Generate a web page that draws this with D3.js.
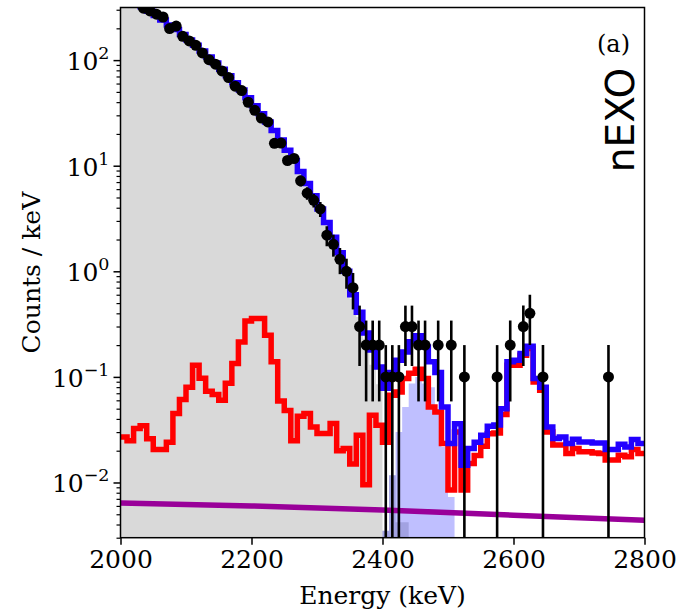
<!DOCTYPE html>
<html>
<head>
<meta charset="utf-8">
<script src="https://cdn.jsdelivr.net/npm/d3@7/dist/d3.min.js"></script>
<style>
  body { margin: 0; background: #fff; }
  svg text { font-family: "DejaVu Serif", serif; fill: #000; }
</style>
</head>
<body>
<svg id="chart" width="679" height="613"></svg>
<script>
// 10 keV bins, left edges
const binStart = 2000;
const binWidth = 10;
const xTicks = [2000, 2200, 2400, 2600, 2800];
const yDecades = [-2, -1, 0, 1, 2];

// total fit (blue), 2000 .. 2790
const totalFit = [
  440, 395, 355, 320, 290, 265, 240, 215, 195, 175,
  155, 138, 122, 107, 94, 82, 71, 61, 52, 44,
  37, 31, 26, 21.5, 17.5, 14, 11.2, 8.8, 6.8, 5.2,
  3.9, 2.9, 2.1, 1.5, 1.0, 0.6, 0.41, 0.26, 0.18, 0.124,
  0.078, 0.11, 0.144, 0.172, 0.215, 0.245, 0.192, 0.139, 0.11, 0.052,
  0.0234, 0.036, 0.0146, 0.021, 0.024, 0.028, 0.034, 0.035, 0.05, 0.139,
  0.144, 0.167, 0.195, 0.0966, 0.080, 0.0336, 0.0261, 0.027, 0.0234, 0.0257,
  0.0242, 0.0242, 0.0236, 0.0236, 0.0205, 0.0205, 0.023, 0.0217, 0.0255, 0.0234
];

// other backgrounds (red), 2000 .. 2790
const otherBkg = [
  0.027, 0.0248, 0.0325, 0.0344, 0.026, 0.0205, 0.0205, 0.024, 0.045, 0.061,
  0.080, 0.129, 0.097, 0.073, 0.068, 0.060, 0.087, 0.134, 0.214, 0.339,
  0.357, 0.357, 0.248, 0.139, 0.059, 0.048, 0.0248, 0.0425, 0.045, 0.0336,
  0.0291, 0.0291, 0.0362, 0.020, 0.021, 0.015, 0.028, 0.0095, 0.0433, 0.0348,
  0.024, 0.067, 0.072, 0.0966, 0.108, 0.118, 0.0966, 0.052, 0.0466, 0.0234,
  0.0085, 0.030, 0.0085, 0.0151, 0.018, 0.022, 0.029, 0.0295, 0.044, 0.129,
  0.129, 0.16, 0.186, 0.0897, 0.0748, 0.0301, 0.0226, 0.0226, 0.0188, 0.021,
  0.0195, 0.0195, 0.019, 0.0188, 0.0163, 0.0163, 0.0181, 0.0175, 0.0205, 0.0188
];

// 2nbb (grey fill), 2000 .. 2430
const twoNu = [
  440, 395, 355, 320, 290, 265, 240, 215, 195, 175,
  155, 138, 122, 107, 94, 82, 71, 61, 52, 44,
  37, 31, 26, 21.5, 17.5, 14, 11.2, 8.8, 6.8, 5.2,
  3.9, 2.9, 2.1, 1.5, 1.0, 0.55, 0.37, 0.23, 0.13, 0.085,
  0.0035, 0.0117, 0.0042, 0.0042
];

// 0nbb signal (light blue fill), 2400 .. 2500
const signalStart = 2400;
const signal = [0.0035, 0.0117, 0.030, 0.052, 0.0866, 0.1, 0.0866, 0.080, 0.0484, 0.0217, 0.0073];

// 8B solar neutrinos (purple)
const b8Energy = [2000, 2200, 2400, 2600, 2800];
const b8Rate = [0.0064, 0.0060, 0.0055, 0.0049, 0.0044];

// data: bin centre, counts per 10 keV bin
const dataE = [
  2035, 2045, 2055, 2065, 2075, 2085, 2095, 2105, 2115, 2125,
  2135, 2145, 2155, 2165, 2175, 2185, 2195, 2205, 2215, 2225,
  2235, 2245, 2255, 2265, 2275, 2285, 2295, 2305, 2315, 2325,
  2335, 2345, 2355, 2365, 2375, 2385, 2395, 2405, 2415, 2425,
  2435, 2445, 2455, 2465, 2485, 2505, 2525, 2575, 2595, 2615,
  2625, 2645, 2745
];
const dataCounts = [
  3100, 2920, 2720, 2560, 1990, 2100, 1680, 1520, 1380, 1170,
  1010, 915, 790, 684, 566, 515, 399, 335, 283, 260,
  163, 164, 112, 117, 72, 55, 47, 39, 22, 18,
  13, 10, 7, 3, 2, 2, 2, 1, 1, 1,
  3, 3, 2, 2, 2, 2, 1, 1, 2, 3,
  4, 1, 1
];

const W = 679, H = 613;
const margin = { top: 7.5, right: 34.5, bottom: 75.3, left: 120.5 };
const width = W - margin.left - margin.right;
const height = H - margin.top - margin.bottom;

const svg = d3.select("#chart");
const g = svg.append("g").attr("transform", `translate(${margin.left},${margin.top})`);

const x = d3.scaleLinear().domain([2000, 2800]).range([0, width]);
const y = d3.scaleLog().domain([0.003, 315]).range([height, 0]);

svg.append("defs").append("clipPath").attr("id", "plotClip")
  .append("rect").attr("width", width).attr("height", height);

const plot = g.append("g").attr("clip-path", "url(#plotClip)");

// turn a per-bin list into step points (left edge + closing edge)
function stepPoints(start, vals) {
  const pts = vals.map((v, i) => [start + i * binWidth, v]);
  pts.push([start + vals.length * binWidth, vals[vals.length - 1]]);
  return pts;
}

const stepLine = d3.line()
  .x(d => x(d[0])).y(d => y(d[1]))
  .curve(d3.curveStepAfter);

const stepArea = d3.area()
  .x(d => x(d[0])).y0(height).y1(d => y(d[1]))
  .curve(d3.curveStepAfter);

plot.append("path")
  .datum(stepPoints(binStart, twoNu))
  .attr("d", stepArea)
  .attr("fill", "#d9d9d9");

plot.append("path")
  .datum(stepPoints(signalStart, signal))
  .attr("d", stepArea)
  .attr("fill", "#0000ff")
  .attr("fill-opacity", 0.25);

plot.append("path")
  .datum(stepPoints(binStart, otherBkg))
  .attr("d", stepLine)
  .attr("fill", "none")
  .attr("stroke", "#ff0000")
  .attr("stroke-width", 5.5);

plot.append("path")
  .datum(stepPoints(binStart, totalFit))
  .attr("d", stepLine)
  .attr("fill", "none")
  .attr("stroke", "#2200ff")
  .attr("stroke-width", 5.5);

plot.append("path")
  .datum(b8Energy.map((e, i) => [e, b8Rate[i]]))
  .attr("d", d3.line().x(d => x(d[0])).y(d => y(d[1])))
  .attr("fill", "none")
  .attr("stroke", "#990099")
  .attr("stroke-width", 5.5);

// data with Poisson errors
const points = dataE.map((e, i) => {
  const n = dataCounts[i];
  const v = n / binWidth;
  const err = Math.sqrt(n) / binWidth;
  return { e, v, lo: v - err, hi: v + err };
});

plot.append("g").selectAll("line").data(points).join("line")
  .attr("x1", d => x(d.e)).attr("x2", d => x(d.e))
  .attr("y1", d => d.lo > 0 ? y(d.lo) : height)
  .attr("y2", d => y(d.hi))
  .attr("stroke", "#000")
  .attr("stroke-width", 2.6);

plot.append("g").selectAll("circle").data(points).join("circle")
  .attr("cx", d => x(d.e)).attr("cy", d => y(d.v))
  .attr("r", 5.5)
  .attr("fill", "#000");

// frame
g.append("rect")
  .attr("width", width).attr("height", height)
  .attr("fill", "none").attr("stroke", "#000").attr("stroke-width", 1.5);

// x axis
const xAxis = g.append("g")
  .attr("transform", `translate(0,${height})`)
  .call(d3.axisBottom(x).tickValues(xTicks).tickSize(7).tickPadding(6).tickFormat(d3.format("d")));
xAxis.select(".domain").remove();
xAxis.selectAll("line").attr("stroke-width", 1.5);
xAxis.selectAll("text").attr("font-size", 25).attr("font-family", "DejaVu Serif");

// y axis: minor ticks
const minorVals = y.ticks(50).filter(v => {
  const l = Math.log10(v);
  return Math.abs(l - Math.round(l)) > 1e-6;
});
const yMinor = g.append("g")
  .call(d3.axisLeft(y).tickValues(minorVals).tickSize(4).tickFormat(""));
yMinor.select(".domain").remove();
yMinor.selectAll("line").attr("stroke-width", 1.2);

// y axis: major ticks with 10^n labels
const yMajor = g.append("g")
  .call(d3.axisLeft(y).tickValues(yDecades.map(p => Math.pow(10, p))).tickSize(7).tickFormat(""));
yMajor.select(".domain").remove();
yMajor.selectAll("line").attr("stroke-width", 1.5);

const yLab = g.append("g").selectAll("text").data(yDecades).join("text")
  .attr("x", -11)
  .attr("y", p => y(Math.pow(10, p)) + 10)
  .attr("text-anchor", "end")
  .attr("font-size", 25);
yLab.append("tspan").text("10");
yLab.append("tspan")
  .attr("dy", -11)
  .attr("font-size", 17.5)
  .text(p => p < 0 ? "\u2212" + Math.abs(p) : String(p));

// axis titles
svg.append("text")
  .attr("transform", `translate(40,${margin.top + height / 2}) rotate(-90)`)
  .attr("text-anchor", "middle")
  .attr("font-size", 25)
  .text("Counts / keV");

svg.append("text")
  .attr("x", margin.left + width / 2)
  .attr("y", 604)
  .attr("text-anchor", "middle")
  .attr("font-size", 25)
  .text("Energy (keV)");

// annotations
svg.append("text")
  .attr("x", 630).attr("y", 52)
  .attr("text-anchor", "end")
  .attr("font-size", 24)
  .text("(a)");

svg.append("text")
  .attr("transform", "translate(634,120) rotate(-90)")
  .attr("text-anchor", "middle")
  .attr("font-size", 39)
  .style("font-family", "'DejaVu Sans', sans-serif")
  .text("nEXO");
</script>
</body>
</html>
